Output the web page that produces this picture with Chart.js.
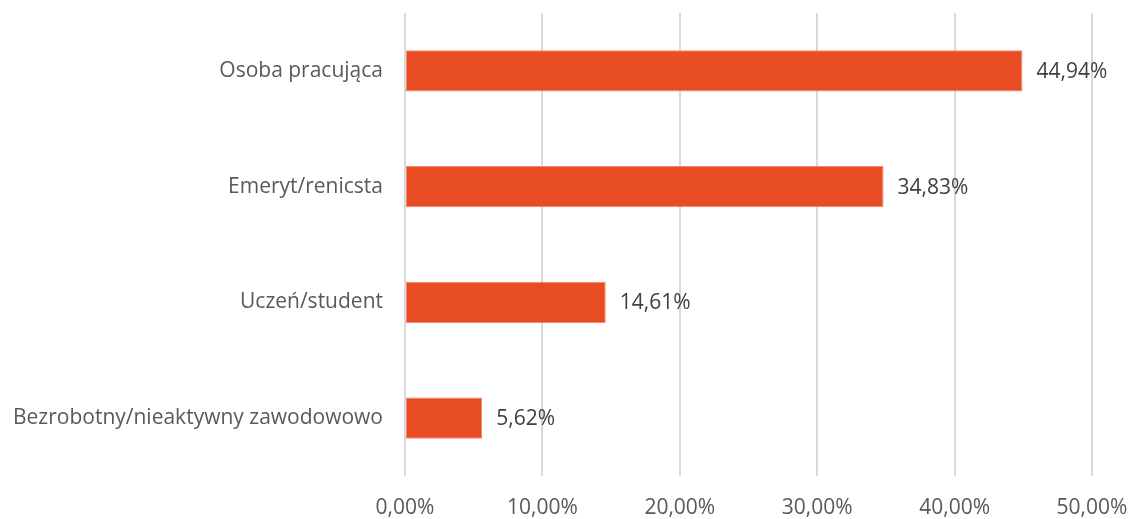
<!DOCTYPE html>
<html>
<head>
<meta charset="utf-8">
<script src="https://cdn.jsdelivr.net/npm/chart.js@4"></script>
<style>
  html, body { margin: 0; padding: 0; background: #ffffff; }
  #wrap { width: 1131px; height: 519px; }
</style>
</head>
<body>
<div id="wrap"><canvas id="statusChart"></canvas></div>
<script>
  var categories = ['Osoba pracująca', 'Emeryt/renicsta', 'Uczeń/student', 'Bezrobotny/nieaktywny zawodowowo'];
  var shares = [44.94, 34.83, 14.61, 5.62];
  var tickValues = [0, 10, 20, 30, 40, 50];

  var BAR = '#E84C22';
  var TEXT = '#595959';
  var GRID = '#D9D9D9';
  var FONT = "'Open Sans', sans-serif";

  function pct(v) { return v.toFixed(2).replace('.', ',') + '%'; }

  // étiquettes de valeur à droite de chaque barre
  var valueLabels = {
    id: 'valueLabels',
    afterDatasetsDraw: function (chart) {
      var ctx = chart.ctx;
      var meta = chart.getDatasetMeta(0);
      ctx.save();
      ctx.font = '21px ' + FONT;
      ctx.fillStyle = '#404040';
      ctx.textBaseline = 'middle';
      ctx.textAlign = 'left';
      meta.data.forEach(function (bar, i) {
        ctx.fillText(pct(shares[i]), bar.x + 14, bar.y + 1);
      });
      ctx.restore();
    }
  };

  new Chart(document.getElementById('statusChart'), {
    type: 'bar',
    data: {
      labels: categories,
      datasets: [{
        data: shares,
        backgroundColor: BAR,
        borderColor: '#F2876A',
        borderWidth: 1,
        borderSkipped: false,
        barPercentage: 0.355,
        categoryPercentage: 1
      }]
    },
    options: {
      indexAxis: 'y',
      responsive: true,
      maintainAspectRatio: false,
      animation: false,
      layout: { padding: { top: 13, right: 39, left: 0, bottom: 0 } },
      plugins: { legend: { display: false }, tooltip: { enabled: false } },
      scales: {
        x: {
          min: 0,
          max: 50,
          afterBuildTicks: function (axis) { axis.ticks = tickValues.map(function (v) { return { value: v }; }); },
          afterFit: function (axis) {
            axis.height = 43;
            axis.paddingLeft = 0;
            axis.paddingRight = 0;
          },
          grid: { color: GRID, lineWidth: 2, drawTicks: false },
          border: { display: false },
          ticks: { padding: 19, color: TEXT, font: { family: FONT, size: 21 }, callback: function (v) { return pct(v); } }
        },
        y: {
          afterFit: function (axis) {
            axis.width = 405;
            axis.paddingTop = 0;
            axis.paddingBottom = 0;
          },
          grid: { display: false },
          border: { display: false },
          ticks: { padding: 14, color: TEXT, font: { family: FONT, size: 21 } }
        }
      }
    },
    plugins: [valueLabels]
  });
</script>
</body>
</html>
